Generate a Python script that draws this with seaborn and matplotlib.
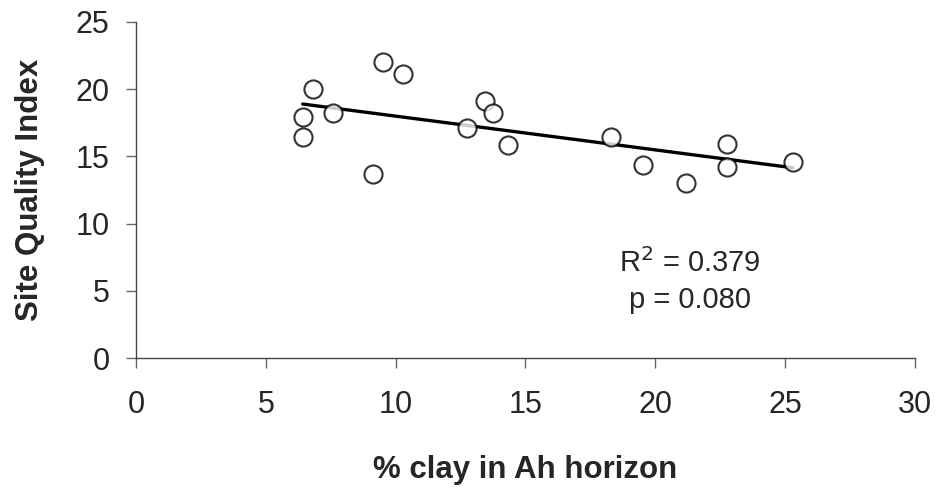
import matplotlib
matplotlib.use("Agg")
import matplotlib.pyplot as plt
import seaborn as sns
import pandas as pd

clay = [6.42, 6.42, 6.80, 7.57, 9.11, 9.50, 10.27, 12.73, 13.44, 13.73, 14.34,
        18.28, 19.51, 21.20, 22.75, 22.75, 25.29]
sqi = [17.94, 16.45, 20.0, 18.24, 13.66, 21.98, 21.09, 17.08, 19.13, 18.24, 15.84,
       16.45, 14.35, 13.03, 15.9, 14.22, 14.55]
xticks = [0, 5, 10, 15, 20, 25, 30]
yticks = [0, 5, 10, 15, 20, 25]

df = pd.DataFrame({"clay": clay, "sqi": sqi})

sns.set_style("white")
plt.rcParams['font.family'] = ['Liberation Sans', 'DejaVu Sans']

fig = plt.figure(figsize=(9.42, 4.93), dpi=100)
ax = fig.add_axes([0.1444, 0.2738, 0.8269, 0.682])

sns.regplot(data=df, x="clay", y="sqi", ax=ax, ci=None,
            scatter_kws=dict(s=170, facecolors="white", edgecolors="black", linewidths=1.5, zorder=3),
            line_kws=dict(color="black", linewidth=2.4, zorder=2))

ax.set_xlim(0, 30)
ax.set_ylim(0, 25)
ax.set_xticks(xticks)
ax.set_yticks(yticks)
ax.tick_params(axis="both", labelsize=22, length=7, width=1, color="#666666",
               direction="out", left=True, bottom=True)
ax.tick_params(axis="x", pad=16)
ax.tick_params(axis="y", pad=12)
for s in ["top", "right"]:
    ax.spines[s].set_visible(False)
for s in ["left", "bottom"]:
    ax.spines[s].set_color("#444444")
    ax.spines[s].set_linewidth(1)
ax.set_xlabel("% clay in Ah horizon", fontsize=22.5, fontweight="bold", labelpad=25)
ax.set_ylabel("Site Quality Index", fontsize=22.5, fontweight="bold", labelpad=22)

ax.text(21.33, 6.39, "R$^2$ = 0.379", fontsize=21, ha="center", va="baseline")
ax.text(21.33, 3.72, "p = 0.080", fontsize=21, ha="center", va="baseline")

fig.savefig("out.png", dpi=100)
